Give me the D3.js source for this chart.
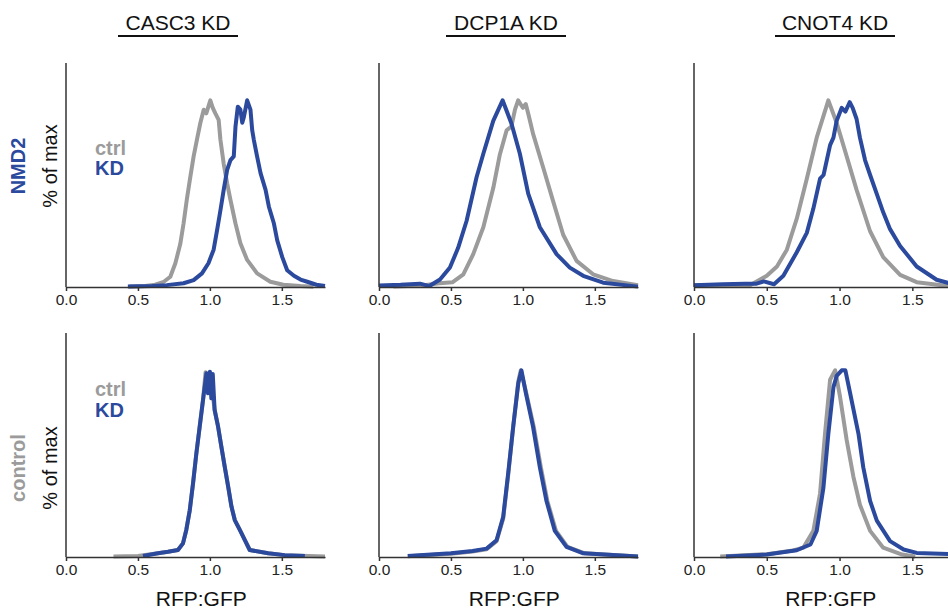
<!DOCTYPE html>
<html>
<head>
<meta charset="utf-8">
<script src="https://cdn.jsdelivr.net/npm/d3@7"></script>
<style>
  body { margin: 0; background: #fff; }
  svg { display: block; font-family: "Liberation Sans", Arial, Helvetica, sans-serif; }
  .axis path, .axis line { stroke: #333; stroke-width: 1.5; }
  .axis text { font-size: 15.5px; fill: #222; }
</style>
</head>
<body>
<svg width="948" height="612"></svg>
<script>
// column / row labels
const columns = ["CASC3 KD", "DCP1A KD", "CNOT4 KD"];
const rows = ["NMD2", "control"];
const xTicks = [0, 0.5, 1.0, 1.5];

// [RFP:GFP, % of max]
const casc3NmdCtrl = [[0.44,0.3],[0.55,0.6],[0.62,1.2],[0.68,2.8],[0.725,5.5],[0.76,12.7],[0.794,23],[0.817,34],[0.84,47],[0.864,59],[0.887,70],[0.91,79],[0.934,88],[0.957,95],[0.975,93],[1.003,100],[1.02,96],[1.038,93],[1.061,89.5],[1.073,79],[1.096,66],[1.12,55.5],[1.143,46.6],[1.178,34],[1.212,23.4],[1.259,14.5],[1.328,7.3],[1.42,2.8],[1.51,1.2],[1.63,0.5],[1.72,0.2]];
const casc3NmdKd = [[0.43,0.3],[0.6,0.6],[0.7,1],[0.817,2],[0.887,3.7],[0.945,7.3],[0.99,12.7],[1.026,20],[1.05,30.5],[1.073,41],[1.096,52],[1.12,62.7],[1.143,68],[1.166,70],[1.178,86],[1.194,96.6],[1.212,95],[1.225,88],[1.236,91],[1.259,100],[1.282,95],[1.294,84],[1.305,79],[1.328,70],[1.352,61],[1.387,52],[1.41,43],[1.445,34],[1.468,25],[1.503,16],[1.537,9],[1.584,6],[1.63,4],[1.677,2.8],[1.74,1.2],[1.8,0.5]];
const dcp1aNmdCtrl = [[0.1,0.3],[0.3,0.8],[0.42,2],[0.51,2.5],[0.586,6.8],[0.655,17.6],[0.725,32],[0.794,53],[0.84,71],[0.887,84],[0.92,86],[0.945,95],[0.967,100],[1.0,96],[1.02,98],[1.04,92],[1.071,82],[1.141,64],[1.21,46],[1.28,28],[1.373,14],[1.488,6.8],[1.627,3.2],[1.8,1]];
const dcp1aNmdKd = [[0,0.8],[0.15,1.2],[0.285,1.8],[0.35,0.5],[0.424,4],[0.493,10.4],[0.55,21],[0.609,35.5],[0.678,58.8],[0.725,71.4],[0.794,89],[0.859,100],[0.921,87.5],[0.979,71.4],[1.037,50],[1.118,32],[1.234,17.6],[1.326,10.4],[1.419,6],[1.558,2.3],[1.8,0.2]];
const cnot4NmdCtrl = [[0,1],[0.2,1],[0.385,1],[0.5,6],[0.57,11],[0.638,20],[0.706,36.6],[0.775,58],[0.843,80],[0.923,100],[0.98,88],[1.049,70],[1.117,52],[1.209,30],[1.3,16],[1.416,6.5],[1.53,2.6],[1.75,0.5]];
const cnot4NmdKd = [[0,1],[0.2,1.5],[0.35,1.8],[0.43,1.8],[0.48,3],[0.55,1.5],[0.614,6],[0.706,18.6],[0.775,29],[0.82,42],[0.866,58],[0.89,60],[0.935,76],[0.958,80],[0.98,89],[1.015,96],[1.04,94],[1.07,99],[1.09,96],[1.117,90],[1.14,80],[1.175,68],[1.21,60],[1.255,50],[1.3,40],[1.347,31],[1.416,22],[1.53,11],[1.667,3.9],[1.8,1]];
const casc3CtrlCtrl = [[0.33,0.3],[0.5,0.6],[0.639,2],[0.709,2.8],[0.778,3.75],[0.813,7.3],[0.836,14.5],[0.86,25],[0.883,39.5],[0.906,55.5],[0.929,69.8],[0.952,84],[0.97,99],[0.99,92],[1.0,99],[1.033,78.75],[1.057,69.8],[1.08,59],[1.103,48.4],[1.127,37.7],[1.15,27],[1.173,19.8],[1.208,14.5],[1.243,9],[1.277,3.75],[1.405,2],[1.52,1],[1.8,0.3]];
const casc3CtrlKd = [[0.535,0.5],[0.639,2],[0.709,2.8],[0.778,3.75],[0.813,7.3],[0.836,14.5],[0.86,25],[0.883,39.5],[0.906,55.5],[0.929,69.8],[0.952,84],[0.976,98.4],[0.987,87.7],[1.0,99.3],[1.01,85],[1.02,98],[1.033,78.75],[1.057,69.8],[1.08,59],[1.103,48.4],[1.127,37.7],[1.15,27],[1.173,19.8],[1.208,14.5],[1.243,9],[1.277,3.75],[1.405,2],[1.52,1],[1.66,0.5]];
const dcp1aCtrlCtrl = [[0.2,0.4],[0.5,1.8],[0.65,3],[0.748,4.2],[0.817,8.5],[0.863,20.5],[0.898,44],[0.933,70],[0.968,94],[0.985,100],[1.02,89],[1.075,70],[1.125,48],[1.17,30],[1.23,14],[1.31,5.4],[1.43,2],[1.8,0.3]];
const dcp1aCtrlKd = [[0.2,0.5],[0.5,2],[0.65,3.2],[0.748,4.5],[0.817,9],[0.863,21.5],[0.898,45],[0.933,70],[0.968,93],[0.99,100],[1.02,88],[1.07,70],[1.118,48],[1.164,30],[1.222,14],[1.303,5.4],[1.42,2],[1.8,0.3]];
const cnot4CtrlCtrl = [[0.18,0.3],[0.5,1.5],[0.68,3.5],[0.751,5],[0.82,14],[0.866,34],[0.9,66],[0.935,95],[0.97,100],[1.003,86],[1.049,62.6],[1.095,43],[1.14,28],[1.21,14],[1.3,5],[1.43,1.3],[1.52,0.3]];
const cnot4CtrlKd = [[0.22,0.3],[0.5,1.3],[0.706,3.6],[0.8,6.7],[0.843,14],[0.889,37],[0.923,66],[0.958,91],[0.98,97],[1.015,100],[1.04,100],[1.072,88],[1.13,66],[1.163,48],[1.21,30],[1.256,19.5],[1.347,8.5],[1.44,4],[1.53,2.2],[1.8,1.5]];

const panels = [
  [[casc3NmdCtrl, casc3NmdKd], [dcp1aNmdCtrl, dcp1aNmdKd], [cnot4NmdCtrl, cnot4NmdKd]],
  [[casc3CtrlCtrl, casc3CtrlKd], [dcp1aCtrlCtrl, dcp1aCtrlKd], [cnot4CtrlCtrl, cnot4CtrlKd]]
];

const GRAY = "#9b9b9b";
const BLUE = "#2b4a9e";
const colX = [66, 379, 694];
const colW = [259, 259, 262];
const titleX = [178, 506, 835];
const rowTop = [63, 333];
const plotH = 224;
const labelY = [166, 468];
const legendY = [[155, 175], [396, 417]];

const svg = d3.select("svg");

columns.forEach((c, i) => {
  svg.append("text")
    .attr("x", titleX[i]).attr("y", 30)
    .attr("text-anchor", "middle")
    .style("font-size", "21px").style("fill", "#111")
    .text(c);
  svg.append("line")
    .attr("x1", titleX[i] - 60).attr("x2", titleX[i] + 60)
    .attr("y1", 36).attr("y2", 36)
    .attr("stroke", "#111").attr("stroke-width", 1.8);
});

rows.forEach((r, ri) => {
  const top = rowTop[ri];

  // row label + y title
  svg.append("text")
    .attr("transform", `translate(25,${labelY[ri]}) rotate(-90)`)
    .attr("text-anchor", "middle")
    .style("font-size", "20px").style("font-weight", "bold")
    .style("fill", ri === 0 ? BLUE : GRAY)
    .text(r);
  svg.append("text")
    .attr("transform", `translate(57,${labelY[ri]}) rotate(-90)`)
    .attr("text-anchor", "middle")
    .style("font-size", "20px").style("fill", "#111")
    .text("% of max");

  // legend in first column
  svg.append("text").attr("x", 95).attr("y", legendY[ri][0])
    .style("font-size", "20px").style("font-weight", "bold").style("fill", GRAY)
    .text("ctrl");
  svg.append("text").attr("x", 95).attr("y", legendY[ri][1])
    .style("font-size", "20px").style("font-weight", "bold").style("fill", BLUE)
    .text("KD");

  columns.forEach((c, ci) => {
    const x = d3.scaleLinear().domain([0, 1.8]).range([colX[ci], colX[ci] + colW[ci]]);
    const y = d3.scaleLinear().domain([0, 120]).range([top + plotH, top]);

    const line = d3.line().x(d => x(d[0])).y(d => y(d[1]));

    const [ctrl, kd] = panels[ri][ci];
    svg.append("path").datum(ctrl)
      .attr("d", line).attr("fill", "none")
      .attr("stroke", GRAY).attr("stroke-width", 4).attr("stroke-linejoin", "round");
    svg.append("path").datum(kd)
      .attr("d", line).attr("fill", "none")
      .attr("stroke", BLUE).attr("stroke-width", 4).attr("stroke-linejoin", "round");

    svg.append("g")
      .attr("class", "axis")
      .attr("transform", `translate(0,${top + plotH})`)
      .call(d3.axisBottom(x).tickValues(xTicks).tickFormat(d3.format(".1f"))
        .tickSizeInner(4).tickSizeOuter(0).tickPadding(3));

    svg.append("line")
      .attr("x1", colX[ci]).attr("x2", colX[ci])
      .attr("y1", top).attr("y2", top + plotH)
      .attr("stroke", "#333").attr("stroke-width", 1.5);

    if (ri === 1) {
      svg.append("text")
        .attr("x", x(0.94)).attr("y", 606)
        .attr("text-anchor", "middle")
        .style("font-size", "21px").style("fill", "#111")
        .text("RFP:GFP");
    }
  });
});
</script>
</body>
</html>
